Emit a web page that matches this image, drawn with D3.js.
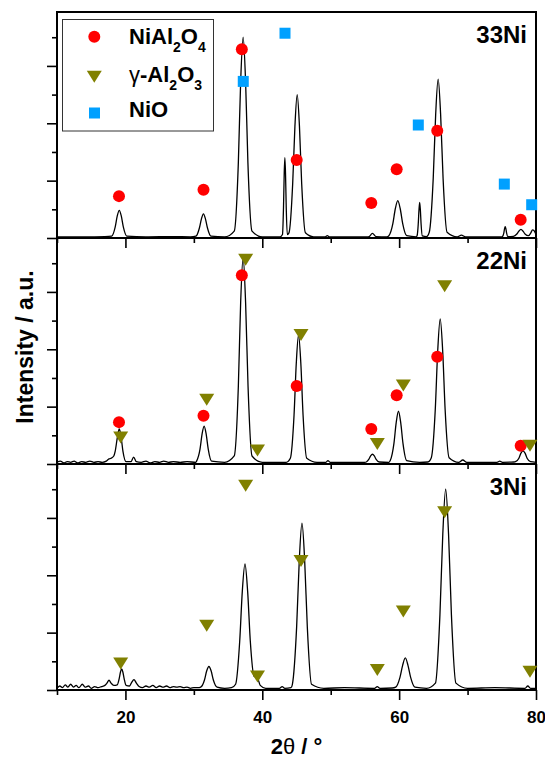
<!DOCTYPE html>
<html>
<head>
<meta charset="utf-8">
<script src="https://cdnjs.cloudflare.com/ajax/libs/d3/7.8.5/d3.min.js"></script>
<style>
  body { margin: 0; background: #fff; }
  text { font-family: "Liberation Sans", Arial, sans-serif; font-weight: bold; fill: #000; }
</style>
</head>
<body>
<div id="chart-area"></div>
<script>
// XRD patterns: [2theta, intensity (a.u.)]
var ni33 = [
  [10,2],[14,2],[17,2.5],
  [18.0,3.4],[18.5,19],[18.8,38],[19.1,48],[19.4,38],[19.7,19],[20.2,3.4],
  [23,2],[27,2.5],[29.5,2],
  [30.3,3.2],[30.8,17],[31.1,33],[31.4,42],[31.7,33],[32.0,17],[32.5,3.2],
  [34.5,2],
  [35.9,12],[36.5,131],[36.84,273],[37.2,350],[37.56,273],[37.9,131],[38.5,12],
  [40,2],[42.6,2],
  [42.95,6],[43.1,53],[43.2,110],[43.3,140],[43.4,110],[43.5,53],[43.65,6],
  [43.9,9],[44.44,94],[44.77,195],[45.1,250],[45.43,195],[45.76,94],[46.3,9],
  [47.5,2],[49.2,2],[49.5,4],[49.8,2],[55.4,2],
  [55.6,2.5],[56.1,8],[56.6,2.5],
  [58.2,2],
  [58.5,4],[59.08,25],[59.44,51],[59.8,65],[60.16,51],[60.52,25],[61.1,4],
  [62.5,2],
  [62.62,3.8],[62.79,24],[62.9,49],[63.0,62],[63.1,49],[63.21,24],[63.38,3.8],
  [64.0,2.5],
  [64.4,10],[64.98,104],[65.34,216],[65.7,277],[66.06,216],[66.42,104],[67.0,10],
  [68.5,2],[69.1,5],[69.7,2],[75.0,2],
  [75.1,2.5],[75.3,9],[75.4,16],[75.5,20],[75.6,16],[75.7,9],[75.9,2.5],
  [76.7,3],[77.2,7],[77.5,12],[77.8,15],[78.1,12],[78.4,7],[78.9,4],
  [79.2,8],[79.5,14],[79.7,13],[80,6]
];

var ni22 = [
  [10,3],[10.5,5],[11,2],[11.5,4],[12,3],[12.5,5],[13,2],[13.6,4],[14.2,3],[14.8,5],
  [15.4,3],[16,4],[16.6,3],[17.2,5],[17.6,9],[17.9,10],[18.3,14],
  [18.5,22],[18.83,47],[19.1,61],[19.37,47],[19.64,22],[20.1,4],
  [20.8,4],[21.2,12],[21.6,4],[22.3,3],[23,5],[23.6,2],[24.3,4],[25,3],[25.6,5],
  [26.3,3],[27,4],[28,3],[29,4],[30.3,3],
  [30.4,5],[30.9,26],[31.2,52],[31.5,66],[31.8,52],[32.1,26],[32.6,5],
  [34.5,3],
  [35.9,14],[36.5,135],[36.84,282],[37.2,360],[37.56,282],[37.92,135],[38.5,14],
  [40,3],[42.5,3],[43.5,3],
  [44.1,10],[44.64,85],[44.97,176],[45.3,225],[45.63,176],[45.96,85],[46.5,10],
  [48,3],[49.3,3],[49.6,6],[49.9,3],[55.0,3],
  [55.2,3.5],[55.56,8],[55.83,14],[56.1,17],[56.37,14],[56.64,8],[57.1,3.5],
  [58.5,3],
  [58.7,6],[59.24,36],[59.57,72],[59.9,92],[60.23,72],[60.56,36],[61.1,6],
  [63,3],[64.2,3.5],
  [64.7,11],[65.28,95],[65.64,198],[66.0,253],[66.36,198],[66.72,95],[67.3,11],
  [68.7,3],[69.3,7],[69.9,3],[74.3,3],[74.7,5],[75.1,3],[76.8,3.5],
  [77.0,4],[77.5,10],[77.8,19],[78.1,23],[78.4,19],[78.7,10],[79.2,4],[80,3]
];

var ni3 = [
  [10,3],[10.4,7],[10.8,4],[11.2,9],[11.6,5],[12,10],[12.4,5],[12.8,8],[13.2,4],[13.7,10],
  [14.1,5],[14.6,7],[15,3],[15.5,6],[16,4],[16.5,6],[17,8],
  [17.3,12],[17.6,17],[17.9,12],[18.3,8],
  [18.8,9],[19.09,20],[19.27,31],[19.45,37],[19.63,31],[19.81,20],[20.1,8],
  [20.6,7],[20.9,13],[21.25,18],[21.6,12],[22,6],[22.5,4],[23,7],[23.5,5],[24,8],
  [24.5,4],[25,7],[25.5,5],[26,7],[26.5,4],[27,6],[27.5,5],[28,6],[28.5,4],[29,5],
  [29.5,3],[30,4],[30.6,4],
  [31.0,5],[31.54,17],[31.87,33],[32.2,41],[32.53,33],[32.86,17],[33.4,5],
  [34.5,3],[35.5,4],
  [36.1,10],[36.7,85],[37.08,172],[37.47,220],[37.86,172],[38.25,85],[38.8,24],
  [39.3,21],[39.7,8],[40.5,3],
  [42.5,3],[42.9,6],[43.3,3],[44.2,4],
  [44.4,10],[45.02,110],[45.41,227],[45.8,291],[46.19,227],[46.58,110],[47.2,10],
  [49,3],[52,4],[56.4,3],[56.8,6],[57.2,3],[59,3.5],
  [59.5,5],[60.12,22],[60.51,43],[60.9,56],[61.29,43],[61.68,22],[62.3,5],
  [64,3],
  [65.3,12],[65.96,131],[66.38,272],[66.8,350],[67.22,272],[67.64,131],[68.3,12],
  [70,3],[74,4],[78.4,3],[78.8,7],[79.2,3],[80,3]
];

// reference phase markers: [2theta, height]
var spinelRef = [[19.06,73],[31.41,84],[37.01,329],[45.03,136],[55.93,61],[59.64,120],[65.57,187],[77.76,32]];
var aluminaRef = [[19.31,46],[31.88,112],[37.57,356],[39.3,23.5],[45.66,225],[56.81,35],[60.61,137],[66.65,310],[79.12,32]];
var nioRef = [[37.22,273],[43.32,357],[62.80,197],[75.37,94],[79.37,58]];

var sampleLabels = ["33Ni", "22Ni", "3Ni"];
var xMajor = [20, 40, 60, 80];
var xMinor = [10, 30, 50, 70];
var yMajor = [0, 100, 200, 300];
var yMinor = [50, 150, 250, 350];

var margin = { left: 57, top: 12 },
  width = 479,
  panelH = 226;

var svg = d3
  .select("#chart-area")
  .append("svg")
  .attr("width", 545)
  .attr("height", 761);

var x = d3.scaleLinear().domain([10, 80]).range([0, width]);
var y = d3.scaleLinear().domain([0, 394]).range([panelH, 0]);

var line = d3
  .line()
  .x(function(d) { return x(d[0]); })
  .y(function(d) { return y(d[1]); })
  .curve(d3.curveMonotoneX);

var red = "#ff0000", olive = "#808000", blue = "#00a0ff";
var triPath = "M-7.5,-6L7.5,-6L0,6Z";

var panels = [
  { curve: ni33, phases: ["spinel", "nio"] },
  { curve: ni22, phases: ["spinel", "alumina"] },
  { curve: ni3, phases: ["alumina"] }
];

function drawMarkers(g, phase) {
  if (phase == "spinel") {
    g.selectAll(".sp").data(spinelRef).enter().append("circle")
      .attr("cx", function(d) { return x(d[0]); })
      .attr("cy", function(d) { return y(d[1]); })
      .attr("r", 6)
      .attr("fill", red);
  } else if (phase == "alumina") {
    g.selectAll(".al").data(aluminaRef).enter().append("path")
      .attr("d", triPath)
      .attr("transform", function(d) { return "translate(" + x(d[0]) + "," + y(d[1]) + ")"; })
      .attr("fill", olive);
  } else {
    g.selectAll(".ni").data(nioRef).enter().append("rect")
      .attr("x", function(d) { return x(d[0]) - 5.5; })
      .attr("y", function(d) { return y(d[1]) - 5.5; })
      .attr("width", 11)
      .attr("height", 11)
      .attr("fill", blue);
  }
}

panels.forEach(function(p, i) {
  var g = svg.append("g")
    .attr("transform", "translate(" + margin.left + "," + (margin.top + i * panelH) + ")");

  // y ticks (no labels)
  var yMaj = g.append("g").call(d3.axisLeft(y).tickValues(yMajor).tickSize(10).tickFormat(""));
  var yMin = g.append("g").call(d3.axisLeft(y).tickValues(yMinor).tickSize(5).tickFormat(""));

  // x ticks at bottom of each panel
  var xMaj = g.append("g")
    .attr("transform", "translate(0," + panelH + ")")
    .call(d3.axisBottom(x).tickValues(xMajor).tickSize(10).tickPadding(11)
      .tickFormat(i == 2 ? d3.format("d") : ""));
  var xMin = g.append("g")
    .attr("transform", "translate(0," + panelH + ")")
    .call(d3.axisBottom(x).tickValues(xMinor).tickSize(5).tickFormat(""));

  [yMaj, yMin, xMaj, xMin].forEach(function(a) {
    a.select(".domain").remove();
    a.selectAll("line").attr("stroke", "#000").attr("stroke-width", 1.6);
    a.selectAll("text").attr("font-size", "17px").attr("font-family", null);
  });

  g.append("rect")
    .attr("width", width)
    .attr("height", panelH)
    .attr("fill", "none")
    .attr("stroke", "#000")
    .attr("stroke-width", 2);

  g.append("path")
    .datum(p.curve)
    .attr("fill", "none")
    .attr("stroke", "#000")
    .attr("stroke-width", 1.3)
    .attr("d", line);

  p.phases.forEach(function(ph) { drawMarkers(g, ph); });

  g.append("text")
    .attr("x", 470)
    .attr("y", 31)
    .attr("text-anchor", "end")
    .attr("font-size", "24px")
    .text(sampleLabels[i]);
});

// Legend
var leg = svg.append("g");
leg.append("rect")
  .attr("x", 62.5).attr("y", 19.5)
  .attr("width", 151).attr("height", 111.5)
  .attr("fill", "#fff")
  .attr("stroke", "#333")
  .attr("stroke-width", 1);
leg.append("circle").attr("cx", 94.3).attr("cy", 36.7).attr("r", 6).attr("fill", red);
leg.append("path").attr("d", triPath).attr("transform", "translate(94.3,76.7)").attr("fill", olive);
leg.append("rect").attr("x", 89).attr("y", 107.5).attr("width", 11).attr("height", 11).attr("fill", blue);

function chem(sel, parts) {
  parts.forEach(function(pt) {
    var t = sel.append("tspan").text(pt[0]);
    if (pt[1] == "sub") t.attr("font-size", "14px").attr("dy", 8);
    if (pt[1] == "up") t.attr("dy", -8);
    if (pt[1] == "greek") t.attr("font-weight", "normal");
  });
}

var t1 = leg.append("text").attr("x", 129).attr("y", 44.3).attr("font-size", "22px");
chem(t1, [["NiAl"], ["2", "sub"], ["O", "up"], ["4", "sub"]]);
var t2 = leg.append("text").attr("x", 129).attr("y", 81.7).attr("font-size", "22px");
chem(t2, [["γ", "greek"], ["-Al"], ["2", "sub"], ["O", "up"], ["3", "sub"]]);
leg.append("text").attr("x", 129).attr("y", 116.7).attr("font-size", "22px").text("NiO");

// axis titles
var xLabel = svg.append("text")
  .attr("x", margin.left + width / 2)
  .attr("y", 754)
  .attr("text-anchor", "middle")
  .attr("font-size", "22px");
xLabel.append("tspan").text("2");
xLabel.append("tspan").attr("font-weight", "normal").text("θ");
xLabel.append("tspan").text(" / °");

svg.append("text")
  .attr("transform", "translate(33,347) rotate(-90)")
  .attr("text-anchor", "middle")
  .attr("font-size", "23px")
  .text("Intensity / a.u.");
</script>
</body>
</html>
